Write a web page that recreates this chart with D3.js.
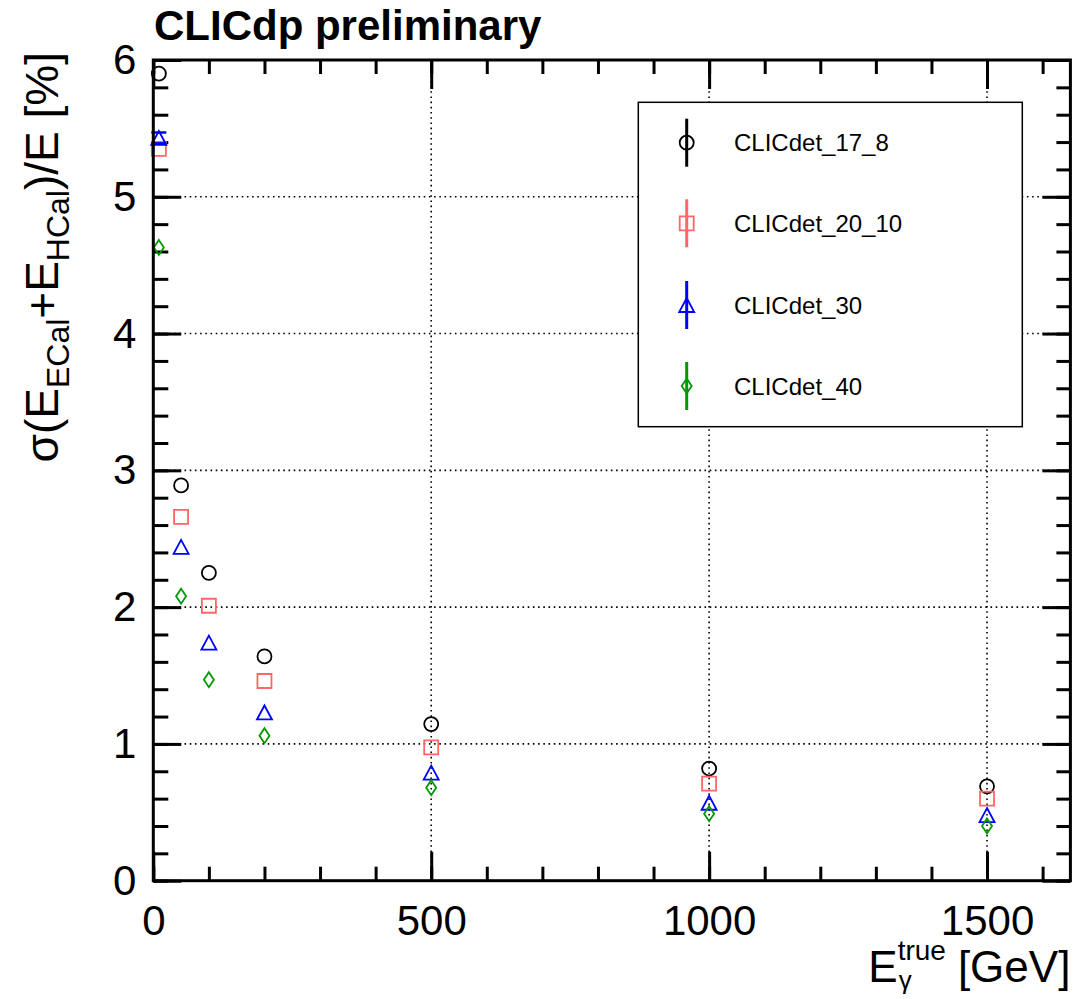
<!DOCTYPE html>
<html><head><meta charset="utf-8">
<script src="https://cdn.jsdelivr.net/npm/d3@7"></script>
<style>body{margin:0;background:#fff} text{font-family:"Liberation Sans",Arial,Helvetica,sans-serif}</style>
</head><body><svg id="c" width="1073" height="999"></svg>
<script>
// ---- data ----
const energies = [10, 50, 100, 200, 500, 1000, 1500];
const seriesNames = ["CLICdet_17_8", "CLICdet_20_10", "CLICdet_30", "CLICdet_40"];
const res_17_8  = [5.90, 2.89, 2.25, 1.64, 1.145, 0.82, 0.69];
const res_20_10 = [5.35, 2.66, 2.01, 1.46, 0.975, 0.71, 0.60];
const res_30    = [5.43, 2.44, 1.74, 1.23, 0.79, 0.57, 0.48];
const res_40    = [4.63, 2.08, 1.47, 1.06, 0.68, 0.49, 0.40];
const err_17_8  = [0.025, 0.015, 0.012, 0.01, 0.008, 0.006, 0.006];
const err_20_10 = [0.025, 0.015, 0.012, 0.01, 0.008, 0.006, 0.006];
const err_30    = [0.04, 0.015, 0.012, 0.01, 0.008, 0.006, 0.006];
const err_40    = [0.025, 0.015, 0.012, 0.01, 0.008, 0.006, 0.006];
const xMajorTicks = [0, 500, 1000, 1500];
const yMajorTicks = [0, 1, 2, 3, 4, 5, 6];
const titleText = "CLICdp preliminary";

// ---- style / layout ----
const colors = ["#000000", "#ff6666", "#0000ff", "#009900"];
const shapes = ["circle", "square", "triangle", "diamond"];
const L = 153.3, R = 1070.4, T = 60, B = 880.7;
const svg = d3.select("#c");
const x = d3.scaleLinear().domain([0, 1650]).range([L, R]);
const y = d3.scaleLinear().domain([0, 6]).range([B, T]);

function markerPath(shape) {
  const p = d3.path();
  if (shape === "circle") { p.moveTo(7, 0); p.arc(0, 0, 7, 0, 2 * Math.PI); }
  else if (shape === "square") { p.rect(-7, -7, 14, 14); }
  else if (shape === "triangle") { p.moveTo(0, -7); p.lineTo(7.5, 7); p.lineTo(-7.5, 7); p.closePath(); }
  else { p.moveTo(0, -7.5); p.lineTo(5, 0); p.lineTo(0, 7.5); p.lineTo(-5, 0); p.closePath(); }
  return p.toString();
}

// grid
const grid = svg.append("g").attr("stroke", "#000").attr("stroke-width", 1.6).attr("stroke-dasharray", "1.6,3.6");
grid.selectAll("line.gx").data(xMajorTicks.filter(d => d > 0)).join("line")
  .attr("x1", d => x(d)).attr("x2", d => x(d)).attr("y1", T).attr("y2", B);
grid.selectAll("line.gy").data(yMajorTicks.filter(d => d > 0 && d < 6)).join("line")
  .attr("y1", d => y(d)).attr("y2", d => y(d)).attr("x1", L).attr("x2", R);

// axes
function styleAxis(g) {
  g.select(".domain").remove();
  g.selectAll("line").attr("stroke", "#000").attr("stroke-width", 3);
  g.selectAll("text").attr("font-size", 42).attr("fill", "#000").attr("font-family", '"Liberation Sans",Arial,sans-serif');
}
const xMinor = d3.range(0, 1650, 100);
const yMinor = d3.range(0, 6.01, 0.2).map(v => +v.toFixed(2));
svg.append("g").attr("transform", `translate(0,${B})`)
  .call(d3.axisBottom(x).tickValues(xMinor).tickSize(-14).tickFormat("")).call(styleAxis);
svg.append("g").attr("transform", `translate(0,${B})`)
  .call(d3.axisBottom(x).tickValues(xMajorTicks).tickSize(-29).tickPadding(24).tickFormat(d3.format("d"))).call(styleAxis);
svg.append("g").attr("transform", `translate(0,${T})`)
  .call(d3.axisTop(x).tickValues(xMinor).tickSize(-14).tickFormat("")).call(styleAxis);
svg.append("g").attr("transform", `translate(0,${T})`)
  .call(d3.axisTop(x).tickValues(xMajorTicks).tickSize(-29).tickFormat("")).call(styleAxis);
svg.append("g").attr("transform", `translate(${L},0)`)
  .call(d3.axisLeft(y).tickValues(yMinor).tickSize(-15).tickFormat("")).call(styleAxis);
svg.append("g").attr("transform", `translate(${L},0)`)
  .call(d3.axisLeft(y).tickValues(yMajorTicks).tickSize(-28).tickPadding(17).tickFormat(d3.format("d"))).call(styleAxis);
svg.append("g").attr("transform", `translate(${R},0)`)
  .call(d3.axisRight(y).tickValues(yMinor).tickSize(-14).tickFormat("")).call(styleAxis);
svg.append("g").attr("transform", `translate(${R},0)`)
  .call(d3.axisRight(y).tickValues(yMajorTicks).tickSize(-28).tickFormat("")).call(styleAxis);

// data points (error bars drawn only outside the marker, ROOT style)
const allVals = [res_17_8, res_20_10, res_30, res_40];
const allErrs = [err_17_8, err_20_10, err_30, err_40];
const half = 7;
allVals.forEach((vals, si) => {
  const g = svg.append("g").attr("stroke", colors[si]).attr("fill", "none");
  const pts = energies.map((e, i) => ({ e, v: vals[i], err: allErrs[si][i] }));
  pts.forEach(p => {
    const cx = x(p.e), cy = y(p.v), hi = y(p.v + p.err), lo = y(p.v - p.err);
    if (cy - hi > half) g.append("line").attr("x1", cx).attr("x2", cx).attr("y1", hi).attr("y2", cy - half).attr("stroke-width", 2.5);
    if (lo - cy > half) g.append("line").attr("x1", cx).attr("x2", cx).attr("y1", cy + half).attr("y2", lo).attr("stroke-width", 2.5);
    if (cy - hi > 4) {
      g.append("line").attr("x1", cx - 7.5).attr("x2", cx + 7.5).attr("y1", hi).attr("y2", hi).attr("stroke-width", 2.5);
      g.append("line").attr("x1", cx - 7.5).attr("x2", cx + 7.5).attr("y1", lo).attr("y2", lo).attr("stroke-width", 2.5);
    }
    g.append("path").attr("d", markerPath(shapes[si])).attr("transform", `translate(${cx},${cy})`).attr("stroke-width", 1.8);
  });
});

// frame
svg.append("rect").attr("x", L).attr("y", T).attr("width", R - L).attr("height", B - T)
  .attr("fill", "none").attr("stroke", "#000").attr("stroke-width", 3);

// legend
const lg = svg.append("g");
lg.append("rect").attr("x", 638.3).attr("y", 102.3).attr("width", 384).attr("height", 324.4)
  .attr("fill", "#fff").attr("stroke", "#000").attr("stroke-width", 1.5);
const legY = [142.7, 223.3, 305, 386];
seriesNames.forEach((n, i) => {
  const gy = legY[i];
  lg.append("line").attr("x1", 686.7).attr("x2", 686.7).attr("y1", gy - 24).attr("y2", gy + 24)
    .attr("stroke", colors[i]).attr("stroke-width", 3);
  lg.append("path").attr("d", markerPath(shapes[i])).attr("transform", `translate(686.7,${gy})`)
    .attr("fill", "none").attr("stroke", colors[i]).attr("stroke-width", 1.8);
  lg.append("text").attr("x", 734).attr("y", gy).attr("dy", "0.36em").attr("font-size", 24).text(n);
});

// title
svg.append("text").attr("x", 154).attr("y", 40).attr("font-size", 42).attr("font-weight", "bold").text(titleText);

// x-axis title: E_gamma^true [GeV], right-aligned at frame end
const xt = svg.append("g").attr("font-size", 44);
const gev = xt.append("text").attr("x", R).attr("y", 982).attr("text-anchor", "end").text("[GeV]");
const gevStart = R - gev.node().getComputedTextLength() - 12;
const sup = xt.append("text").attr("x", gevStart).attr("y", 960).attr("text-anchor", "end").attr("font-size", 28).text("true");
const supStart = gevStart - sup.node().getComputedTextLength();
xt.append("text").attr("x", supStart + 1).attr("y", 989).attr("font-size", 26).text("γ");
xt.append("text").attr("x", supStart).attr("y", 982).attr("text-anchor", "end").text("E");

// y-axis title
const yt = svg.append("text").attr("transform", "translate(58,52) rotate(-90)").attr("text-anchor", "end").attr("font-size", 46);
yt.append("tspan").text("σ(E");
yt.append("tspan").attr("font-size", 32).attr("dy", 11).text("ECal");
yt.append("tspan").attr("dy", -11).text("+E");
yt.append("tspan").attr("font-size", 32).attr("dy", 11).text("HCal");
yt.append("tspan").attr("dy", -11).text(")/E [%]");
</script>
</body></html>
